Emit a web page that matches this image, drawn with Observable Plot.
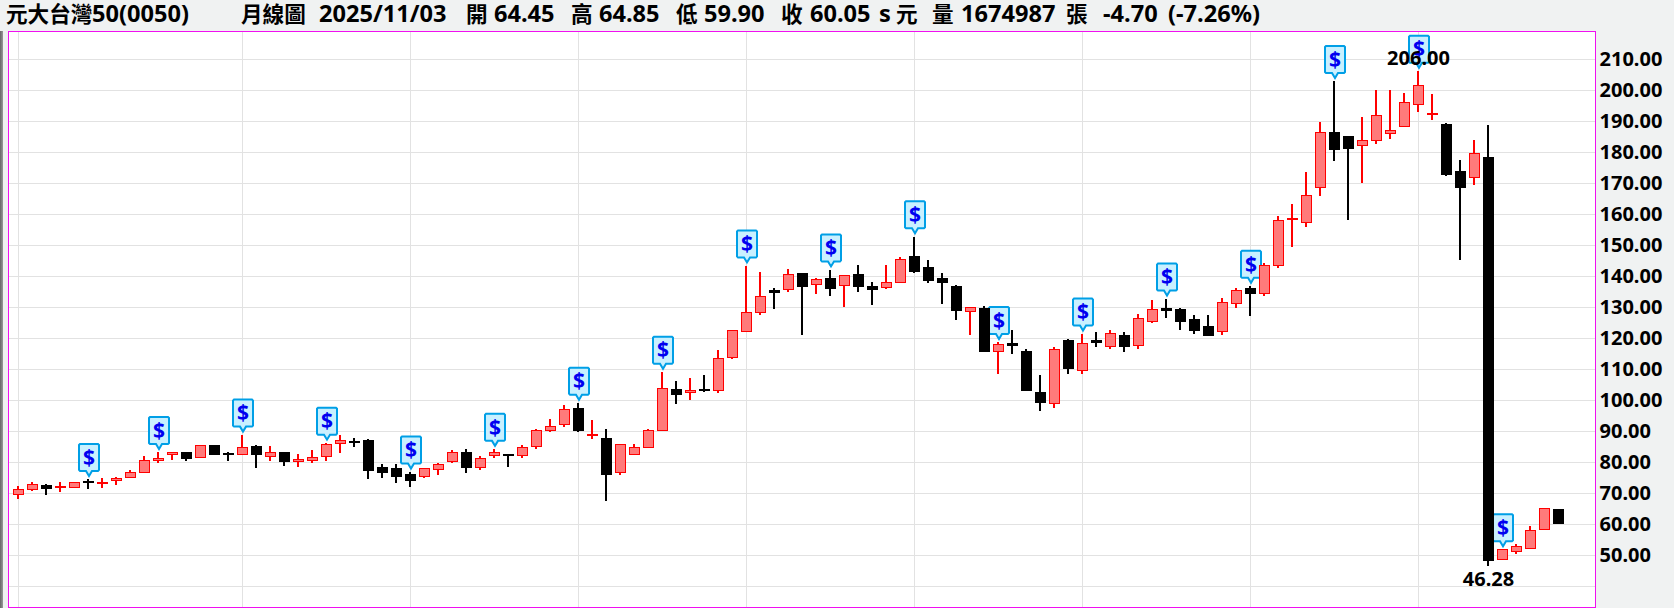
<!DOCTYPE html>
<html>
<head>
<meta charset="utf-8">
<script src="https://cdn.jsdelivr.net/npm/d3@7"></script>
<script src="https://cdn.jsdelivr.net/npm/@observablehq/plot@0.6"></script>
<style>
html,body{margin:0;padding:0;background:#f0f2f2;width:1674px;height:608px;overflow:hidden}
#hdr{position:absolute;left:0;top:0;width:1674px;height:31px;font-family:"Noto Sans","Noto Sans CJK TC",sans-serif;font-weight:700;color:#000}
#hdr span{position:absolute;top:-2px;line-height:31px;white-space:pre;font-size:23.6px}
#hdr span.cjk{font-size:21.6px}
#strip{position:absolute;left:0;top:31px;width:3px;height:577px;background:linear-gradient(90deg,#666,#999)}
#chart{position:absolute;left:0;top:31px}
</style>
</head>
<body>
<div id="hdr"></div>
<div id="strip"></div>
<div id="chart"></div>
<script>
const open = [
69.3,71.2,72.4,71.7,71.7,73.7,73.0,73.9,74.9,76.5,
80.3,82.3,83,81.3,85.2,82.7,82.3,84.9,81.6,83,
80,80.5,81.6,85.9,86.6,86.8,78,77.8,76,75.4,
77.5,80.1,83,78.1,82,82.3,82,84.9,90,91.9,
97.3,88.5,87.6,76.4,82.2,84.5,90.1,103.3,102.4,103.3,
102.9,113.6,122,128.1,135.4,135.6,140.6,137.2,139,136.8,
140.3,136.4,136.2,137.9,146.1,142.6,139,136.7,128.4,129.3,
115.5,118.3,115.6,102.5,98.8,119.2,109.4,119,117.1,120.9,
117.5,125.2,129.6,129,125.8,123.8,122,131,135.8,134.2,
143.3,158.2,157.3,168.6,186.4,184.8,181.9,183.8,186,188.3,
195.4,192.1,188.7,173.5,171.8,178.1,48.4,51,52,58.1,64.45];
const high = [
72.3,73.6,72.9,73.6,73.4,74.3,74.9,75.0,77.5,81.8,
83,83.3,83.3,85.1,85.5,83.1,88.6,85.5,85,83.3,
82.6,83.7,86,88.5,87.8,87.5,79.4,79.2,76.7,77.8,
79.7,83.7,84,81.8,84,82.6,85.3,90.7,93.7,98.2,
98.9,93.4,90.5,85.5,85.7,90.7,108.9,106,107,108,
116,122.5,143.2,141.3,136.2,142.2,140.6,139.3,141.9,140.2,
143.5,137.9,143.5,146,152.6,145.1,141,137.1,129.8,130.2,
118.5,122.5,116.4,108,117,119.5,121.2,121.9,122.5,121.9,
127.6,132.2,132.5,129.6,127.4,127.4,132.9,136.1,136.6,144,
159.4,163.2,173.6,189.7,202.7,185.1,191.4,200.1,200.1,199.1,
206,198.8,189.3,177.4,183.9,188.8,51.6,53.5,59.2,64.9,64.85];
const low = [
68,70.6,69.3,70.2,71.6,71.2,71.5,72.5,74.8,76.5,
79.6,80.6,80.3,81.3,82.2,80.3,82.3,78,80.3,78.7,
78.3,79.6,80.3,82.8,84.8,74.3,74.8,73.2,71.9,74.8,
75.6,79.6,76.4,77.4,81.2,78.3,81.2,84.1,89.5,91.3,
89.5,87.4,67.2,75.7,82.2,84.5,90.1,98.6,99.9,102.5,
102.2,113.1,122,127.4,129.3,134.8,120.9,134.2,133.5,130,
134.8,130.6,135.9,137.9,141,137.7,130.9,125.8,120.9,115.4,
108.3,114.8,102.7,96.4,97.4,108.3,108.3,117,116.4,115.4,
116.4,124.7,126.4,122.5,121.2,120.9,120.9,129.6,127,133.5,
142.6,149.3,155.9,165.9,176.9,158,169.8,182.6,184.3,188.2,
193,190.4,172.1,145,169.2,46.28,48.4,50.2,51.8,58.1,59.9];
const close = [
71.0,72.6,71.5,72.0,73.3,73.3,73.4,74.5,76.5,80.4,
81.2,83.0,81.2,85.1,82.2,82.4,84.5,82.3,82.9,80,
80.7,81.4,85.5,86.8,86.3,77.3,76.6,75.3,74,77.8,
79.1,82.9,78.3,81,83,82,84.6,90.1,91.4,96.9,
90,88.8,76,85.5,84.6,90.1,103.6,101.6,103,102.9,
113.3,122.2,128.2,133.4,134.6,140.5,136.7,138.9,135.9,140.2,
136.7,135.6,137.9,145.4,141.4,138.4,137.8,128.8,129.8,115.7,
117.9,117.5,103.1,99,116.3,110,118.2,118.6,121.4,117.1,
126.3,129.2,128.8,125.4,122.5,120.9,131.5,135.3,134.2,143.4,
158,158.5,166,186.4,180.8,181.1,183.8,191.6,187,195.8,
201.3,192.4,172.7,168.5,179.6,48.3,51.6,52.6,57.8,64.9,60.05];

const dividendMonths = [5,10,16,22,28,34,40,46,52,58,64,70,76,82,88,94,100,106];
const yearGrid = [0,16,28,40,52,64,76,88,100];
const priceTicks = [50,60,70,80,90,100,110,120,130,140,150,160,170,180,190,200,210];
const priceGrid = [40,...priceTicks];
const highestIndex = 100, highestValue = 206.00;
const lowestIndex = 105, lowestValue = 46.28;

const headerTexts = ["元大台灣","50(0050)","月線圖","2025/11/03","開","64.45","高","64.85","低","59.90","收","60.05","s","元","量","1674987","張","-4.70","(-7.26%)"];
const headerLeft  = [6,92,241,319,466,494,571,599,676,704,781,810,879,896,932,961,1066,1103,1168];

const hdr = document.getElementById("hdr");
headerTexts.forEach((t,k)=>{
  const s=document.createElement("span");
  s.textContent=t;
  s.style.left=headerLeft[k]+"px";
  if(/[\u4e00-\u9fff]/.test(t)) s.className="cjk";
  hdr.appendChild(s);
});

const rows = open.map((o,i)=>({i,open:o,high:high[i],low:low[i],close:close[i],up:close[i]>open[i]}));
const upRows = rows.filter(d=>d.up), downRows = rows.filter(d=>!d.up);
const pins = dividendMonths.map(i=>rows[i]);

const pinSymbol = {draw(c){
  c.moveTo(-9,-36);c.lineTo(9,-36);c.lineTo(10,-35);c.lineTo(10,-10);c.lineTo(9,-9);
  c.lineTo(3,-9);c.lineTo(0,-4);c.lineTo(-3,-9);c.lineTo(-9,-9);c.lineTo(-10,-10);c.lineTo(-10,-35);c.closePath();
}};
const font = '"Noto Sans","Noto Sans CJK TC",sans-serif';
const halfBody = 0.36;
const labelStyle = {fontSize:20,fontWeight:700,fill:"#000",fontFamily:font};

const chart = Plot.plot({
  width:1674, height:577,
  marginLeft:8, marginRight:79, marginTop:0, marginBottom:1,
  style:{background:"transparent",fontFamily:font,overflow:"visible"},
  x:{domain:[-10/14,1577/14],axis:null},
  y:{domain:[33.14,218.99],axis:null},
  marks:[
    Plot.frame({fill:"#fff",stroke:"none"}),
    Plot.ruleY(priceGrid,{stroke:"#e2e2e2",strokeWidth:1,shapeRendering:"crispEdges"}),
    Plot.ruleX(yearGrid,{stroke:"#e2e2e2",strokeWidth:1,shapeRendering:"crispEdges"}),
    Plot.frame({stroke:"#f010f0",strokeWidth:1,shapeRendering:"crispEdges"}),
    Plot.dot(pins,{x:"i",y:"high",r:1,symbol:pinSymbol,fill:"#c9f0ff",stroke:"#009fe6",strokeWidth:2,strokeOpacity:1,dx:0.5}),
    Plot.text(pins,{x:"i",y:"high",text:()=>"$",dy:-22,dx:0.5,fill:"#0000f0",fontSize:21,fontWeight:700,fontFamily:font}),
    Plot.ruleX(rows,{x:"i",y1:"low",y2:"high",stroke:d=>d.up?"#ff0000":"#000000",strokeWidth:2,dx:-0.5,shapeRendering:"crispEdges"}),
    Plot.rect(upRows,{x1:d=>d.i-halfBody,x2:d=>d.i+halfBody,y1:"open",y2:"close",fill:"#ff7a7a",stroke:"#ff0000",strokeWidth:1,dx:0.5,shapeRendering:"crispEdges"}),
    Plot.rect(downRows,{x1:d=>d.i-halfBody,x2:d=>d.i+halfBody,y1:"open",y2:"close",fill:"#000",stroke:"#000",strokeWidth:1,dx:0.5,shapeRendering:"crispEdges"}),
    Plot.text([highestValue],{x:[highestIndex],y:[highestValue],text:d=>d.toFixed(2),dy:-13,...labelStyle}),
    Plot.text([lowestValue],{x:[lowestIndex],y:[lowestValue],text:d=>d.toFixed(2),dy:13,...labelStyle}),
    Plot.axisY(priceTicks,{anchor:"right",label:null,tickSize:0,tickPadding:4,tickFormat:d=>d.toFixed(2),...labelStyle})
  ]
});
document.getElementById("chart").appendChild(chart);
</script>
</body>
</html>
